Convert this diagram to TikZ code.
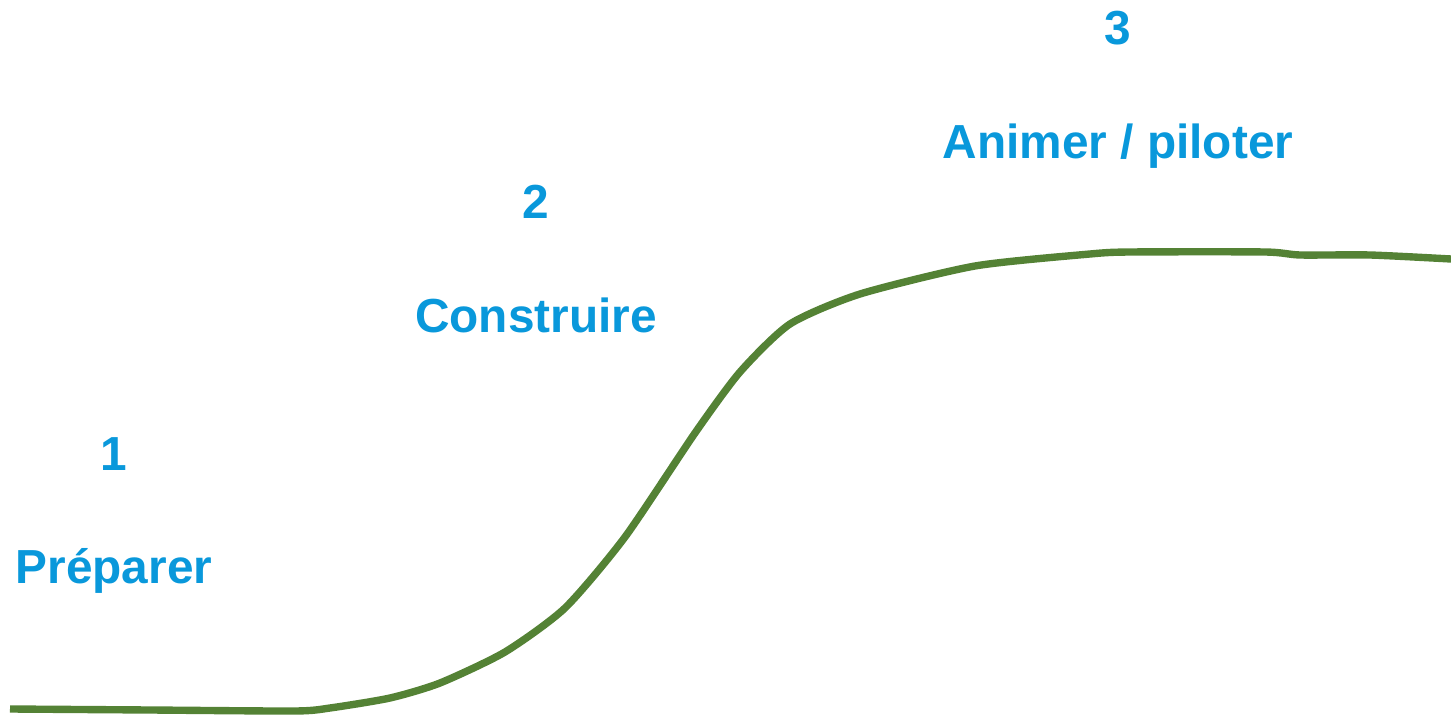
\documentclass[tikz,border=0pt]{standalone}
\usepackage{fontspec}
\setmainfont{Liberation Sans}
\usepackage{tikz}
\usetikzlibrary{positioning}
\definecolor{phaseblue}{HTML}{0998DB}
\definecolor{curvegreen}{HTML}{548235}

\begin{document}
\begin{tikzpicture}[x=0.02cm, y=-0.02cm,
    phase/.style={font=\bfseries\fontsize{27.2}{31}\selectfont, text=phaseblue, anchor=base, inner sep=0pt}]
    \useasboundingbox (0,0) rectangle (1451,716);

    \node[phase] (num1) at (114,470) {1};
    \node[phase] (lab1) at (114,583) {Préparer};

    \node[phase] (num2) at (536,219) {2};
    \node[phase] (lab2) at (536,333) {Construire};

    \node[phase] (num3) at (1118,45) {3};
    \node[phase] (lab3) at (1118,159) {Animer / piloter};

    \draw[curvegreen, line width=4.2pt] plot[smooth, tension=0.4] coordinates {
      (10,709) (150,710) (295,711) (330,708) (390,698) (440,683)
      (505,652) (565,608) (625,537) (695,433) (740,372) (790,324)
      (860,294) (975,266) (1090,254) (1130,252) (1265,252) (1300,255)
      (1370,255) (1451,259)};
\end{tikzpicture}
\end{document}
